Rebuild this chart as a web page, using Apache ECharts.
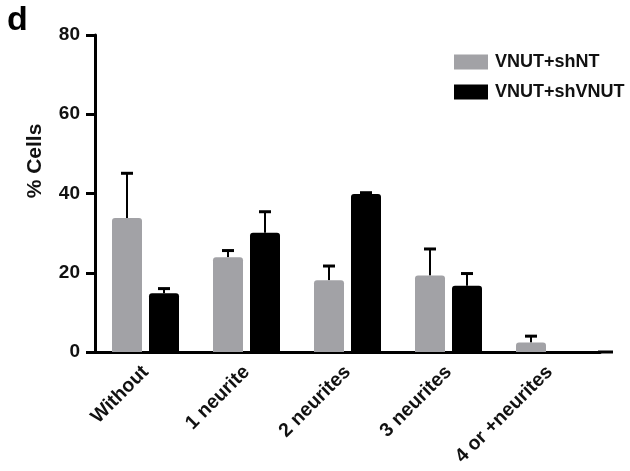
<!DOCTYPE html>
<html><head><meta charset="utf-8">
<script src="https://cdn.jsdelivr.net/npm/echarts@6/dist/echarts.min.js"></script>
<style>html,body{margin:0;padding:0;background:#fff}#c{width:630px;height:471px}</style>
</head><body><div id="c"></div>
<script>
var categories = ['Without', '1 neurite', '2 neurites', '3 neurites', '4 or +neurites'];
var seriesNames = ['VNUT+shNT', 'VNUT+shVNUT'];
var shNT = [33.8, 23.9, 18.1, 19.3, 2.4];
var shNTErr = [11.3, 1.7, 3.6, 6.7, 1.6];
var shVNUT = [14.8, 30.1, 39.9, 16.7, 0];
var shVNUTErr = [1.2, 5.3, 0.3, 3.1, 0];
var yTicks = [0, 20, 40, 60, 80];

var FONT = '"Liberation Sans", Arial, Helvetica, sans-serif';
var GRAY = '#a2a2a6';
var BAR_W = 30, GAP = 7;

function errSeries(vals, errs, side) {
  var data = vals.map(function (v, i) { return [i, v, v + errs[i]]; });
  return {
    type: 'custom', silent: true, z: 1,
    data: data,
    encode: { x: 0, y: [1, 2] },
    renderItem: function (params, api) {
      var i = api.value(0), lo = api.value(1), hi = api.value(2);
      if (hi - lo <= 0) return null;
      var p0 = api.coord([i, lo]);
      var p1 = api.coord([i, hi]);
      var x = p0[0] + side * (BAR_W + GAP) / 2;
      var capHalf = 6;
      return {
        type: 'group',
        children: [
          { type: 'line', shape: { x1: x, y1: p0[1], x2: x, y2: p1[1] },
            style: { stroke: '#000', lineWidth: 2 } },
          { type: 'line', shape: { x1: x - capHalf, y1: p1[1], x2: x + capHalf, y2: p1[1] },
            style: { stroke: '#000', lineWidth: 3 } }
        ]
      };
    }
  };
}

var chart = echarts.init(document.getElementById('c'), null, { renderer: 'canvas' });
chart.setOption({
  animation: false,
  backgroundColor: '#fff',
  grid: { left: 95, right: 30, top: 35, bottom: 119, containLabel: false },
  legend: {
    orient: 'vertical', left: 449, top: 48, itemWidth: 34, itemHeight: 15, itemGap: 12,
    icon: 'rect', data: seriesNames,
    textStyle: { fontFamily: FONT, fontWeight: 'bold', fontSize: 18, color: '#111', padding: [0, 0, 0, 2] }
  },
  xAxis: {
    type: 'category', data: categories,
    axisLine: { lineStyle: { color: '#000', width: 3 } },
    axisTick: { show: false },
    axisLabel: { rotate: 45, margin: 17, interval: 0, fontFamily: FONT, fontWeight: 'bold', fontSize: 19.5, color: '#111' }
  },
  yAxis: {
    type: 'value', min: yTicks[0], max: yTicks[yTicks.length - 1], interval: 20,
    splitLine: { show: false },
    axisLine: { show: true, lineStyle: { color: '#000', width: 3 } },
    axisTick: { show: true, length: 9, lineStyle: { color: '#000', width: 3 } },
    axisLabel: { margin: 15, fontFamily: FONT, fontWeight: 'bold', fontSize: 19, color: '#111' }
  },
  series: [
    { name: seriesNames[0], type: 'bar', data: shNT, barWidth: BAR_W, barGap: (GAP / BAR_W * 100) + '%',
      itemStyle: { color: GRAY, borderRadius: [3, 3, 0, 0] }, z: 2 },
    { name: seriesNames[1], type: 'bar', data: shVNUT, barWidth: BAR_W,
      itemStyle: { color: '#000', borderRadius: [3, 3, 0, 0] }, z: 2 },
    errSeries(shNT, shNTErr, -1),
    errSeries(shVNUT, shVNUTErr, 1)
  ],
  graphic: [
    { type: 'text', left: 7, top: 4, style: { text: 'd', font: 'bold 34px ' + FONT, fill: '#000' } },
    { type: 'text', x: 35, y: 161, rotation: Math.PI / 2,
      style: { text: '% Cells', font: 'bold 21px ' + FONT, fill: '#111', align: 'center', verticalAlign: 'middle' } },
    { type: 'line', shape: { x1: 598, y1: 352, x2: 613, y2: 352 }, style: { stroke: '#000', lineWidth: 3 } }
  ]
});
</script></body></html>
